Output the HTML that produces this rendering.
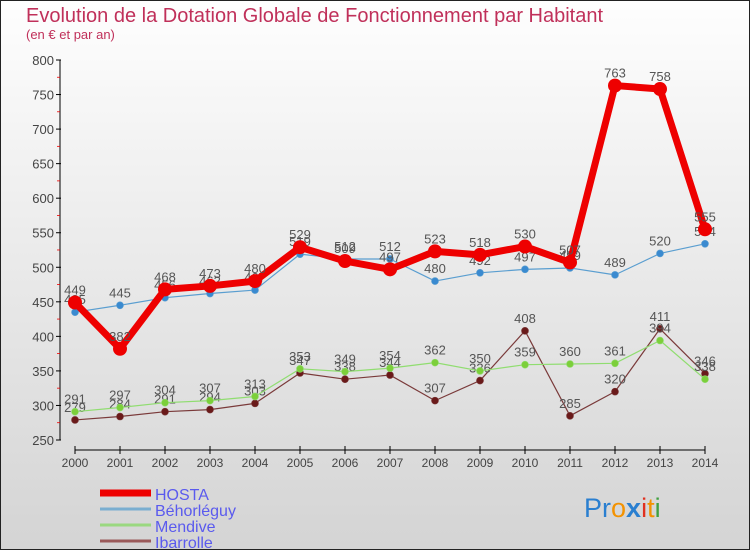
<!DOCTYPE html>
<html><head><meta charset="utf-8"><style>
body{margin:0;}
#wrap{width:750px;height:550px;position:relative;overflow:hidden;font-family:"Liberation Sans",sans-serif;}
</style></head><body>
<div id="wrap">
<svg id="chart" width="750" height="550" xmlns="http://www.w3.org/2000/svg">
<defs><linearGradient id="bg" x1="0" y1="0" x2="0" y2="1"><stop offset="0" stop-color="#fefefe"/><stop offset="1" stop-color="#d4d4d4"/></linearGradient></defs>
<rect x="0.5" y="0.5" width="749" height="549" fill="url(#bg)" stroke="#222"/>
<text x="26" y="22" font-size="20" fill="#c0305a">Evolution de la Dotation Globale de Fonctionnement par Habitant</text>
<text x="26" y="39" font-size="13" fill="#c0305a">(en € et par an)</text>
<g id="axes"></g><g id="series"></g><g id="legend"></g>
<text x="584" y="517" font-size="27"><tspan fill="#2a7fd0">Pr</tspan><tspan fill="#f39200">o</tspan><tspan fill="#2a7fd0" font-weight="bold">x</tspan><tspan fill="#e03020">i</tspan><tspan fill="#f39200">t</tspan><tspan fill="#40a040">i</tspan></text>
</svg>
</div>
<script>
const years=[2000,2001,2002,2003,2004,2005,2006,2007,2008,2009,2010,2011,2012,2013,2014];
const yTicks=[250,300,350,400,450,500,550,600,650,700,750,800];
const hosta=[449,382,468,473,480,529,509,497,523,518,530,507,763,758,555];
const behorleguy=[435,445,456,462,467,519,512,512,480,492,497,499,489,520,534];
const mendive=[291,297,304,307,313,353,349,354,362,350,359,360,361,394,338];
const ibarrolle=[279,284,291,294,303,347,338,344,307,336,408,285,320,411,346];
const seriesNames=["HOSTA","Béhorléguy","Mendive","Ibarrolle"];
const NS="http://www.w3.org/2000/svg";
const xS=i=>75+i*45;
const yS=v=>440-(v-250)*(380/550);
function mk(tag,attrs,parent){const e=document.createElementNS(NS,tag);for(const k in attrs)e.setAttribute(k,attrs[k]);parent.appendChild(e);return e;}
const axes=document.getElementById('axes');
let yl=mk('line',{x1:60,y1:60,x2:60,y2:440,stroke:'#000'},axes);


yTicks.forEach((t,i)=>{
 const y=yS(t);
 mk('line',{x1:56,y1:y,x2:61,y2:y,stroke:'#000'},axes);
 if(i<yTicks.length-1){mk('line',{x1:57,y1:y-17.3,x2:60,y2:y-17.3,stroke:'#e00','stroke-width':0.8},axes);}
 const tx=mk('text',{x:54,y:y+5,'font-size':13,fill:'#444','text-anchor':'end'},axes);
 tx.textContent=t;
 
 
});
let xl=mk('line',{x1:75,y1:450,x2:705,y2:450,stroke:'#000'},axes);


years.forEach((yr,i)=>{
 const x=xS(i);
 mk('line',{x1:x,y1:446,x2:x,y2:454,stroke:'#000'},axes);
 const tx=mk('text',{x:x,y:467,'font-size':12,fill:'#444','text-anchor':'middle'},axes);
 tx.textContent=yr;
 
 
});
const sg=document.getElementById('series');
function drawSeries(data,color,lw,r,name,dot){
 const g=mk('g',{},sg);
 
 
 const pts=data.map((v,i)=>xS(i)+','+yS(v)).join(' ');
 mk('polyline',{points:pts,fill:'none',stroke:color,'stroke-width':lw,'stroke-linejoin':'round'},g);
 data.forEach((v,i)=>{
  const c=mk('circle',{cx:xS(i),cy:yS(v),r:r,fill:dot,stroke:color==dot?'none':color,'stroke-width':0.6},g);
  
  
  const t=mk('text',{x:xS(i),y:yS(v)-8,'font-size':13,fill:'#555','text-anchor':'middle'},g);
  t.textContent=v;
  
  
 });
}
drawSeries(ibarrolle,'#7a3a3a',1.2,3.5,'ibarrolle','#6a1a1a');
drawSeries(mendive,'#90dd70',1.2,3.5,'mendive','#7ccf3a');
drawSeries(behorleguy,'#5a9ed0',1.2,3.5,'behorleguy','#3a8ad0');
drawSeries(hosta,'#ee0000',7,7,'hosta','#ee0000');
const lg=document.getElementById('legend');
const lcols=['#ee0000','#7aaed0','#9ad880','#9a5a5a'];
const lw=[7,3,3,3];
seriesNames.forEach((n,i)=>{
 const y=493+i*16;
 const ln=mk('line',{x1:100,y1:y,x2:151,y2:y,stroke:lcols[i],'stroke-width':lw[i]},lg);
 
 
 const t=mk('text',{x:155,y:y+7,'font-size':16,fill:'#5a5aee'},lg);
 t.textContent=n;
 
 
});
</script>
</body></html>
